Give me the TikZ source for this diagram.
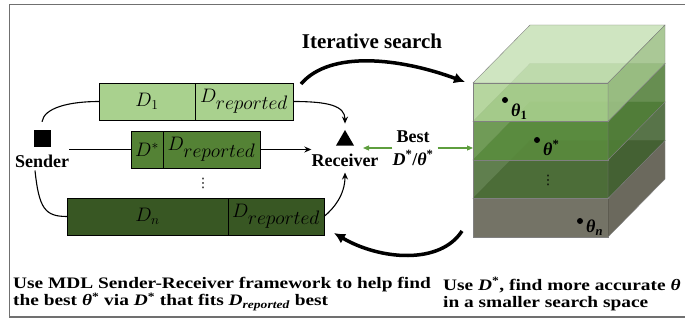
\documentclass[tikz,border=0pt]{standalone}
\usepackage{fix-cm}
\usepackage{fontspec}
\setmainfont{Liberation Serif}
\newfontfamily\widefont[FakeStretch=1.21]{Liberation Serif}
\newfontfamily\symfont{DejaVu Sans}
\usepackage{amsmath,amssymb}
\usetikzlibrary{shapes,positioning,arrows.meta,calc}

\definecolor{boxa}{HTML}{A9D18E}
\definecolor{boxb}{HTML}{548235}
\definecolor{boxc}{HTML}{385723}
\definecolor{bestgreen}{HTML}{5E9E3E}
\definecolor{framegray}{HTML}{707070}
\definecolor{layaf}{HTML}{A9CF8E}
\definecolor{layat}{HTML}{C7E1B6}
\definecolor{layas}{HTML}{9BBE84}
\definecolor{laybf}{HTML}{578A3A}
\definecolor{laybt}{HTML}{77A45A}
\definecolor{laybs}{HTML}{4C7A33}
\definecolor{laycf}{HTML}{44692F}
\definecolor{layct}{HTML}{557F40}
\definecolor{laycs}{HTML}{3B5C29}
\definecolor{laydf}{HTML}{5C5A4B}
\definecolor{laydt}{HTML}{666A52}
\definecolor{layds}{HTML}{514F41}

\begin{document}
\begin{tikzpicture}[x=1pt,y=-1pt,
  seg/.style={draw,line width=0.9pt,minimum height=37pt,inner sep=0pt,outer sep=0pt,
    font=\fontsize{19.5}{22}\selectfont},
  lbl/.style={font=\fontsize{18}{22}\selectfont\bfseries,inner sep=0pt},
  wire/.style={line width=1.1pt},
  conn/.style={line width=1.1pt,-{Stealth[length=7pt,width=6pt]}},
  big/.style={line width=3.5pt,-{Latex[length=11pt,width=11pt]}},
  garrow/.style={bestgreen,line width=1.1pt,-{Triangle[length=6pt,width=5pt]}},
  dot/.style={circle,fill,inner sep=0pt,minimum size=6pt},
  vdot/.style={font=\symfont\fontsize{13}{13}\selectfont,inner sep=0pt},
  note/.style={anchor=north west,align=left,inner sep=0pt,
    font=\widefont\fontsize{16}{17.5}\selectfont\bfseries}]
\useasboundingbox (0,0) rectangle (685,320);
\draw[framegray,line width=1.8pt] (685,4.5) -- (9.5,4.5) -- (9.5,317) -- (685,317);

% sender and receiver
\node[fill,minimum size=17pt,inner sep=0pt] (sq) at (42,138.5) {};
\node[lbl] (snd) at (42,161) {Sender};
\node[regular polygon,regular polygon sides=3,fill,inner sep=0pt,minimum size=21pt] (rcv) at (345,140.5) {};
\node[lbl] (rlb) at (345,160) {Receiver};

% messages
\node[seg,fill=boxa,minimum width=96pt] (d1a) at (147,101.5) {$D_1$};
\node[seg,fill=boxa,minimum width=98pt,right=0pt of d1a] (d1b) {$D_{\textstyle reported}$};
\node[seg,fill=boxb,minimum width=32pt] (dsa) at (147,149.5) {$D^*$};
\node[seg,fill=boxb,minimum width=97pt,right=0pt of dsa] (dsb) {$D_{\textstyle reported}$};
\node[seg,fill=boxc,minimum width=161pt] (dna) at (147.5,216.5) {$D_n$};
\node[seg,fill=boxc,minimum width=96pt,right=0pt of dna] (dnb) {$D_{\textstyle reported}$};
\node[vdot] (vd) at (203,183) {⋮};

\draw[wire] ([yshift=8pt]sq.north) .. controls +(2,-14) and +(-30,0) .. (d1a.west);
\draw[wire] (dsa.west -| snd.east) -- (dsa.west);
\draw[wire] ([xshift=-7pt,yshift=-3pt]snd.south) .. controls +(4,38) and +(-22,0) .. (dna.west);
\draw[conn] (d1b.east) .. controls +(35,0) and +(0,-18) .. ([yshift=6pt]rcv.north);
\draw[conn] (dsb.east) -- (dsb.east -| rlb.west);
\draw[conn] (dnb.east) .. controls +(10,-8) and +(0,22) .. ([yshift=-6pt]rlb.south);

% best
\node[lbl,align=center] (best) at (413,148) {Best\\[1pt]\textit{D}\textsuperscript{*}/\textit{θ}\textsuperscript{*}};
\coordinate (gtip) at (363,148);
\coordinate (cubel) at (473,148);
\draw[garrow] (best.west) -- (gtip);
\draw[garrow,shorten <=4pt] (best.east) -- (cubel);

% search space
\foreach \i/\lf/\lt/\ls in {3/laydf/laydt/layds,2/laycf/layct/laycs,1/laybf/laybt/laybs,0/layaf/layat/layas}{
  \pgfmathsetmacro\ya{83+38.5*\i}
  \pgfmathsetmacro\yb{\ya+38.5}
  \filldraw[fill=\lt,draw=gray,fill opacity=.85] (473,\ya) -- (530,\ya-58) -- (665,\ya-58) -- (608,\ya) -- cycle;
  \filldraw[fill=\lf,draw=gray,fill opacity=.85] (473,\ya) rectangle (608,\yb);
  \filldraw[fill=\ls,draw=gray,fill opacity=.85] (608,\ya) -- (665,\ya-58) -- (665,\yb-58) -- (608,\yb) -- cycle;
}
\node[dot] (t1) at (505,100) {};
\node[lbl,anchor=north west] at (511,104) {\textit{θ}\textsubscript{1}};
\node[dot] (ts) at (537,140) {};
\node[lbl,anchor=north west] at (543,140) {\textit{θ}\textsuperscript{*}};
\node[vdot] (cd) at (548,180) {⋮};
\node[dot] (tn) at (580,221) {};
\node[lbl,anchor=north west] at (586,220) {\textit{θ}\textsubscript{\textit{n}}};

% iteration
\node[font=\fontsize{21}{24}\selectfont\bfseries] (iter) at (372,41) {Iterative search};
\coordinate (itS) at (301,84);
\coordinate (itE) at (465,82);
\coordinate (bkS) at (462,231);
\coordinate (bkE) at (334,233);
\draw[big] (itS) .. controls (330,50) and (400,58) .. (itE);
\draw[big] (bkS) .. controls (440,265) and (380,260) .. (bkE);

% notes
\node[note] (noteL) at (13,277) {Use MDL Sender-Receiver framework to help find\\the best \textit{θ}\textsuperscript{*} via \textit{D}\textsuperscript{*} that fits \textit{D}\textsubscript{\textit{reported}} best};
\node[note] (noteR) at (443,277) {Use \textit{D}\textsuperscript{*}, find more accurate \textit{θ}\\in a smaller search space};
\end{tikzpicture}
\end{document}
